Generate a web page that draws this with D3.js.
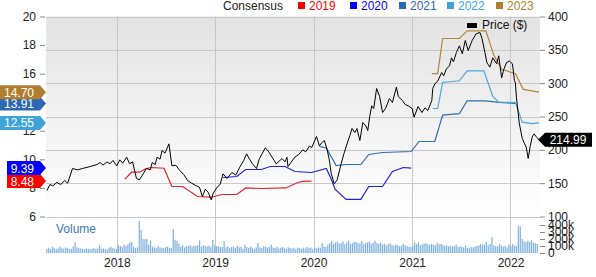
<!DOCTYPE html>
<html>
<head>
<meta charset="utf-8">
<script src="https://cdn.jsdelivr.net/npm/d3@7"></script>
<style>
  body { margin: 0; background: #fff; }
  svg { display: block; font-family: "Liberation Sans", Arial, sans-serif; }
</style>
</head>
<body>
<div id="chart"></div>
<script>
const width = 596;
const height = 277;

// times are decimal years
const priceT = [2017.29,2017.32,2017.35,2017.39,2017.43,2017.47,2017.50,2017.55,2017.60,2017.65,2017.73,2017.80,2017.83,2017.86,2017.90,2017.93,2017.96,
  2018.00,2018.03,2018.06,2018.10,2018.13,2018.16,2018.20,2018.23,2018.26,2018.30,2018.34,2018.36,2018.39,2018.41,2018.44,2018.46,2018.49,2018.53,2018.56,2018.60,2018.64,2018.68,2018.72,2018.76,2018.81,2018.84,2018.87,2018.90,2018.93,2018.96,2018.98,
  2019.02,2019.05,2019.08,2019.12,2019.17,2019.21,2019.25,2019.29,2019.32,2019.35,2019.38,2019.42,2019.45,2019.48,2019.51,2019.54,2019.57,2019.60,2019.62,2019.65,2019.68,2019.71,2019.73,2019.74,2019.77,2019.81,2019.85,2019.89,2019.92,2019.96,2019.98,
  2020.03,2020.06,2020.08,2020.11,2020.14,2020.16,2020.18,2020.21,2020.24,2020.28,2020.31,2020.34,2020.37,2020.39,2020.42,2020.44,2020.47,2020.50,2020.53,2020.55,2020.57,2020.59,2020.61,2020.64,2020.67,2020.70,2020.73,2020.77,2020.80,2020.84,2020.86,2020.90,2020.93,2020.96,
  2021.00,2021.02,2021.06,2021.10,2021.13,2021.16,2021.20,2021.21,2021.23,2021.26,2021.30,2021.32,2021.35,2021.38,2021.40,2021.42,2021.45,2021.48,2021.51,2021.54,2021.57,2021.61,2021.65,2021.69,2021.71,2021.74,2021.76,2021.79,2021.82,2021.86,2021.88,2021.91,2021.93,2021.96,2021.99,
  2022.02,2022.04,2022.05,2022.06,2022.09,2022.12,2022.14,2022.16,2022.18,2022.20,2022.22,2022.24,2022.26,2022.29];
const priceV = [139,148,146,151,148,154,150,172,170,172,175,178,181,177,182,179,184,
  176,185,180,189,179,182,157,155,162,172,170,181,178,189,186,199,195,209,176,177,169,163,154,150,146,144,130,141,136,125,135,
  144,148,164,157,166,162,174,184,194,186,179,172,187,195,203,198,191,184,179,183,187,182,189,175,181,189,193,200,197,206,203,
  220,206,210,214,199,185,164,149,155,179,195,209,222,232,226,232,214,241,236,229,250,266,262,292,280,256,262,277,271,294,280,274,268,266,
  262,249,265,256,263,259,274,292,299,303,316,311,322,326,338,332,346,356,344,364,349,364,374,376,367,346,331,324,338,329,341,308,320,331,333,
  329,304,300,279,239,217,210,204,187,205,219,224,220,214.99];

const cons2019T = [2018.08,2018.15,2018.23,2018.30,2018.35,2018.48,2018.56,2018.67,2018.82,2018.96,2019.07,2019.22,2019.31,2019.47,2019.72,2019.84,2019.89,2019.98];
const cons2019V = [8.6,9.1,9.1,9.36,9.43,9.38,8.1,8.1,7.4,7.35,7.54,7.54,8.0,7.96,8.0,8.38,8.46,8.48];

const cons2020T = [2019.08,2019.22,2019.31,2019.47,2019.56,2019.71,2019.81,2019.98,2020.13,2020.18,2020.22,2020.33,2020.48,2020.56,2020.70,2020.80,2020.91,2020.99];
const cons2020V = [8.73,8.8,9.29,9.29,9.5,9.5,9.15,9.08,9.36,8.6,7.9,7.2,7.2,8.1,8.1,9.15,9.43,9.39];

const cons2021T = [2020.06,2020.13,2020.23,2020.33,2020.48,2020.56,2020.70,2020.99,2021.07,2021.23,2021.31,2021.48,2021.56,2021.74,2021.86,2022.05];
const cons2021V = [10.9,10.8,9.57,9.64,9.64,10.34,10.48,10.55,11.25,11.25,13.1,13.2,14.1,14.1,14.0,13.91];

const cons2022T = [2021.21,2021.26,2021.31,2021.48,2021.56,2021.73,2021.82,2021.88,2022.05,2022.12,2022.22,2022.29];
const cons2022V = [13.56,13.56,15.38,15.5,16.2,16.2,14.4,14.0,13.98,12.6,12.5,12.55];

const cons2023T = [2021.20,2021.26,2021.31,2021.48,2021.56,2021.75,2021.83,2021.91,2022.05,2022.13,2022.29];
const cons2023V = [16.0,16.0,18.46,18.46,19.0,19.0,17.3,16.3,16.0,14.9,14.70];

// weekly volume in thousands, starting mid April 2017
const volumeStart = "2017-04-14";
const volumeK = [60,75,55,85,70,60,65,90,75,60,80,70,55,60,95,
  150,
  80,70,65,60,55,65,60,55,60,70,55,65,110,60,65,55,50,75,90,70,60,
  55,110,100,90,120,100,125,150,155,90,70,80,
  457,330,200,195,200,120,175,
  90,80,70,95,80,75,70,85,90,75,70,
  340,190,170,135,
  90,110,80,95,100,110,90,105,100,110,180,90,110,100,95,105,90,190,
  110,95,100,85,90,170,
  80,95,70,85,90,75,100,80,90,60,120,85,70,90,75,60,80,145,
  80,70,100,90,75,85,120,80,70,90,65,75,85,70,60,80,70,65,75,55,80,70,60,75,65,85,70,80,
  55,70,65,80,75,140,90,85,120,
  140,170,130,150,160,135,140,165,125,150,175,130,140,160,155,145,135,170,125,140,150,160,130,145,175,140,130,150,
  120,130,110,125,140,115,100,120,110,95,105,130,110,100,90,85,
  100,150,130,155,110,120,135,140,125,115,130,120,110,150,125,130,115,100,110,95,105,90,100,120,85,95,90,80,105,75,70,85,80,90,100,110,130,120,120,
  160,110,130,228,
  110,100,95,130,105,90,100,80,120,95,130,105,100,
  386,380,200,170,150,175,160,185,150,140,130];

const epsTicks = [6, 8, 10, 12, 14, 16, 18, 20];
const priceTicks = [100, 150, 200, 250, 300, 350, 400];
const volTicks = [0, 100, 200, 300, 400];
const yearTicks = [2018, 2019, 2020, 2021, 2022];

const series = [
  { name: "2019", t: cons2019T, v: cons2019V, line: "#e3242b", label: "#ff0000" },
  { name: "2020", t: cons2020T, v: cons2020V, line: "#2020d8", label: "#0000ff" },
  { name: "2021", t: cons2021T, v: cons2021V, line: "#2f6cb3", label: "#2b68b1" },
  { name: "2022", t: cons2022T, v: cons2022V, line: "#4aa9da", label: "#3ea3d6" },
  { name: "2023", t: cons2023T, v: cons2023V, line: "#b5863c", label: "#b07e30" }
];

function yr(t) {
  const y = Math.floor(t);
  const a = new Date(y, 0, 1), b = new Date(y + 1, 0, 1);
  return new Date(+a + (t - y) * (b - a));
}

const svg = d3.select("#chart").append("svg")
  .attr("width", width)
  .attr("height", height);

const left = 46, right = 540;
const x = d3.scaleTime().domain([yr(2017.28), yr(2022.30)]).range([left, right]);
const yPrice = d3.scaleLinear().domain([100, 400]).range([216.5, 16.5]);
const yEps = d3.scaleLinear().domain([6, 20]).range([216.5, 16.5]);
const yVol = d3.scaleLinear().domain([0, 400]).range([253, 225]);

// background gradient of the price panel
const defs = svg.append("defs");
const grad = defs.append("linearGradient").attr("id", "bg")
  .attr("x1", 0).attr("y1", 0).attr("x2", 0).attr("y2", 1);
grad.append("stop").attr("offset", "0%").attr("stop-color", "#e3e3e3");
grad.append("stop").attr("offset", "100%").attr("stop-color", "#ffffff");

svg.append("rect")
  .attr("x", left).attr("y", yPrice(400))
  .attr("width", right - left).attr("height", yPrice(100) - yPrice(400))
  .attr("fill", "url(#bg)");

// gridlines
const grid = svg.append("g").attr("stroke", "#c8c8c8").attr("stroke-width", 1);
grid.selectAll("line.h").data(priceTicks).enter().append("line")
  .attr("x1", left).attr("x2", right)
  .attr("y1", d => Math.round(yPrice(d)) + 0.5)
  .attr("y2", d => Math.round(yPrice(d)) + 0.5);
grid.selectAll("line.v").data(yearTicks).enter().append("line")
  .attr("x1", d => Math.round(x(yr(d))) + 0.5)
  .attr("x2", d => Math.round(x(yr(d))) + 0.5)
  .attr("y1", yPrice(400)).attr("y2", yVol(0));

// volume bars
const vStart = new Date(volumeStart + "T00:00:00");
svg.append("g").selectAll("rect")
  .data(volumeK)
  .enter().append("rect")
  .attr("x", (d, i) => x(d3.timeDay.offset(vStart, i * 7)))
  .attr("width", 1.2)
  .attr("y", d => yVol(d))
  .attr("height", d => yVol(0) - yVol(d))
  .attr("fill", "#7fb0de");

svg.append("text")
  .attr("x", 56).attr("y", 233)
  .attr("font-size", 12).attr("fill", "#3b78b5")
  .text("Volume");

// consensus lines
const epsLine = d3.line().x(d => x(yr(d[0]))).y(d => yEps(d[1]));
series.forEach(s => {
  svg.append("path")
    .datum(d3.zip(s.t, s.v))
    .attr("d", epsLine)
    .attr("fill", "none")
    .attr("stroke", s.line)
    .attr("stroke-width", 1.2);
});

// price line
const priceLine = d3.line().x(d => x(yr(d[0]))).y(d => yPrice(d[1]));
svg.append("path")
  .datum(d3.zip(priceT, priceV))
  .attr("d", priceLine)
  .attr("fill", "none")
  .attr("stroke", "#000")
  .attr("stroke-width", 1);

// axes
function styleAxis(g) {
  g.select(".domain").remove();
  g.selectAll(".tick line").attr("stroke", "#888");
  g.selectAll(".tick text").attr("fill", "#222").attr("font-size", 12)
    .attr("font-family", "'Liberation Sans', Arial, sans-serif");
}

svg.append("g")
  .attr("transform", `translate(${left - 1},0)`)
  .call(d3.axisLeft(yEps).tickValues(epsTicks).tickSize(5).tickPadding(4))
  .call(styleAxis);

svg.append("g")
  .attr("transform", `translate(${right},0)`)
  .call(d3.axisRight(yPrice).tickValues(priceTicks).tickSize(5).tickPadding(3))
  .call(styleAxis);

svg.append("g")
  .attr("transform", `translate(${right},0)`)
  .call(d3.axisRight(yVol).tickValues(volTicks).tickSize(5).tickPadding(3)
    .tickFormat(d => d === 0 ? "0" : d + "k"))
  .call(styleAxis);

svg.append("g")
  .attr("transform", `translate(0,${yVol(0)})`)
  .call(d3.axisBottom(x).tickValues(yearTicks.map(yr)).tickSize(0).tickPadding(5)
    .tickFormat(d3.timeFormat("%Y")))
  .call(styleAxis);

// top legend
svg.append("text").attr("x", 223).attr("y", 10).attr("font-size", 12)
  .attr("fill", "#222").text("Consensus");
const legX = [298, 350, 399, 447, 496];
series.forEach((s, i) => {
  svg.append("rect").attr("x", legX[i]).attr("y", 2).attr("width", 7).attr("height", 7)
    .attr("fill", s.label);
  svg.append("text").attr("x", legX[i] + 11).attr("y", 10).attr("font-size", 12)
    .attr("fill", s.label).text(s.name);
});

svg.append("rect").attr("x", 467).attr("y", 23).attr("width", 10).attr("height", 5).attr("fill", "#000");
svg.append("text").attr("x", 482).attr("y", 29).attr("font-size", 12).attr("fill", "#111").text("Price ($)");

// left value tags
const tagH = 14;
series.forEach(s => {
  const val = s.v[s.v.length - 1];
  const yc = yEps(val);
  const txt = val.toFixed(2);
  const tw = txt.length * 6.67 - (txt.length - 1) * 0 ;
  const x0 = txt.length > 4 ? 0 : 7;
  const g = svg.append("g");
  g.append("path")
    .attr("d", `M${x0},${yc - tagH / 2}H40L46,${yc}L40,${yc + tagH / 2}H${x0}Z`)
    .attr("fill", s.label);
  g.append("text").attr("x", 34).attr("y", yc + 4.5)
    .attr("text-anchor", "end").attr("font-size", 12).attr("fill", "#fff").text(txt);
});

// right price tag
const lastP = priceV[priceV.length - 1];
const py = yPrice(lastP);
svg.append("path")
  .attr("d", `M538,${py}L545,${py - 7}H592V${py + 7}H545Z`)
  .attr("fill", "#000");
svg.append("text").attr("x", 568).attr("y", py + 4.5)
  .attr("text-anchor", "middle").attr("font-size", 12).attr("fill", "#fff")
  .text(lastP.toFixed(2));
</script>
</body>
</html>
